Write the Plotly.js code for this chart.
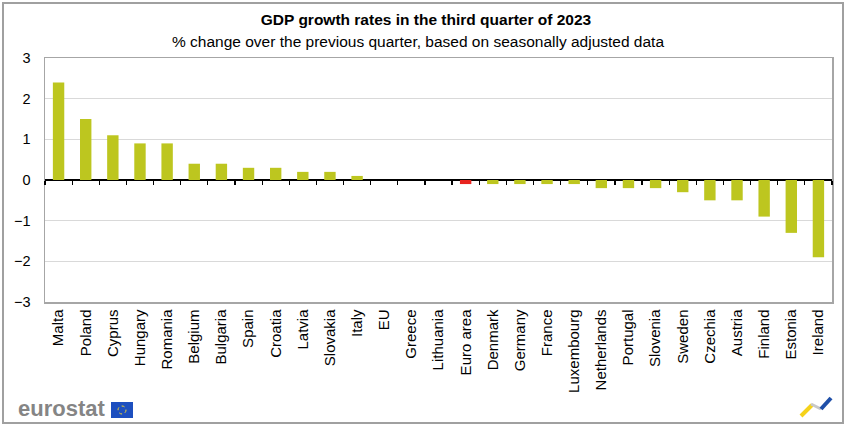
<!DOCTYPE html>
<html>
<head>
<meta charset="utf-8">
<script src="https://cdn.plot.ly/plotly-3.0.1.min.js"></script>
<style>
html,body{margin:0;padding:0;background:#fff;}
#chart{width:850px;height:429px;}
</style>
</head>
<body>
<div id="chart"></div>
<script>
// ---- data ----
const countries = ["Malta","Poland","Cyprus","Hungary","Romania","Belgium","Bulgaria","Spain","Croatia","Latvia","Slovakia","Italy","EU","Greece","Lithuania","Euro area","Denmark","Germany","France","Luxembourg","Netherlands","Portugal","Slovenia","Sweden","Czechia","Austria","Finland","Estonia","Ireland"];
const growth = [2.4,1.5,1.1,0.9,0.9,0.4,0.4,0.3,0.3,0.2,0.2,0.1,0.0,0.0,0.0,-0.1,-0.1,-0.1,-0.1,-0.1,-0.2,-0.2,-0.2,-0.3,-0.5,-0.5,-0.9,-1.3,-1.9];
const highlighted = ["Euro area"];
const yTicks = [-3,-2,-1,0,1,2,3];
const titleText = "GDP growth rates in the third quarter of 2023";
const subtitleText = "% change over the previous quarter, based on seasonally adjusted data";

const barColor = "#BDC61F";
const hiColor = "#E8231F";
const colors = countries.map(c => highlighted.includes(c) ? hiColor : barColor);

// plot area in pixels: x 45..832, y 58..302
const PL = 45, PR = 832, PT = 58, PB = 302;
const px = x => (x - PL) / (PR - PL);
const py = y => (PB - y) / (PB - PT);

const traces = [
  {
    type: "bar", x: countries, y: growth, xaxis: "x", yaxis: "y",
    marker: {color: colors, line: {width: 0}},
    hoverinfo: "x+y", showlegend: false
  },
  {
    type: "bar", x: countries, y: countries.map(() => 0), xaxis: "x2", yaxis: "y",
    marker: {color: "rgba(0,0,0,0)"}, hoverinfo: "skip", showlegend: false
  }
];

const frame = "#A6A6A6";
const layout = {
  width: 850, height: 429,
  margin: {l: PL, r: 850 - PR, t: PT, b: 429 - PB, pad: 0},
  paper_bgcolor: "#fff", plot_bgcolor: "#fff",
  font: {family: "Liberation Sans, Arial, sans-serif", size: 14, color: "#000"},
  bargap: 0.58,
  title: {
    text: "<b>" + titleText + "</b>",
    x: 426 / 850, xref: "container", xanchor: "center",
    y: 1 - 20 / 429, yref: "container", yanchor: "middle",
    font: {size: 15.5, color: "#000", family: "Liberation Sans, Arial, sans-serif"}
  },
  xaxis: {
    type: "category", anchor: "y", side: "bottom",
    showline: true, mirror: true, linecolor: frame, linewidth: 1.5,
    ticks: "", tickangle: -90, showgrid: false, zeroline: false,
    tickfont: {size: 15, color: "#000"}, ticklabelstandoff: 0,
    fixedrange: true
  },
  xaxis2: {
    type: "category", overlaying: "x", anchor: "free", position: 0.5, side: "bottom",
    showline: false, ticks: "outside", tickson: "boundaries", ticklen: 4, tickwidth: 1.2,
    tickcolor: "#000", showticklabels: false, showgrid: false, zeroline: false,
    fixedrange: true
  },
  yaxis: {
    range: [-3, 3], tickvals: yTicks, ticks: "",
    showline: true, mirror: true, linecolor: frame, linewidth: 1.5,
    showgrid: true, gridcolor: "#D9D9D9", gridwidth: 1.2,
    zeroline: true, zerolinecolor: "#000", zerolinewidth: 1.6,
    tickfont: {size: 14.5, color: "#000"}, ticklabelstandoff: 10,
    fixedrange: true
  },
  annotations: [
    {
      text: subtitleText, xref: "paper", yref: "paper",
      x: px(418), y: py(42), xanchor: "center", yanchor: "middle", showarrow: false,
      font: {size: 15.5, color: "#000"}
    },
    {
      text: "<b>eurostat</b>", xref: "paper", yref: "paper",
      x: px(16), y: py(409), xanchor: "left", yanchor: "middle", showarrow: false,
      font: {size: 22, color: "#858585", family: "Liberation Sans, Arial, sans-serif"}
    }
  ],
  shapes: [
    // outer border
    {type: "rect", xref: "paper", yref: "paper", x0: px(3), x1: px(843), y0: py(423), y1: py(3),
     line: {color: "#A0A0A0", width: 2}, fillcolor: "rgba(0,0,0,0)", layer: "below"},
    // EU flag
    {type: "rect", xref: "paper", yref: "paper", x0: px(111), x1: px(133), y0: py(418), y1: py(402),
     line: {width: 0}, fillcolor: "#1D4FBF"},
    {type: "circle", xref: "paper", yref: "paper", x0: px(118), x1: px(126), y0: py(414), y1: py(406),
     line: {color: "#F2D630", width: 1, dash: "dot"}, fillcolor: "rgba(0,0,0,0)"},
    // right logo
    {type: "line", xref: "paper", yref: "paper", x0: px(801), x1: px(812), y0: py(416), y1: py(405),
     line: {color: "#F5D21A", width: 4}},
    {type: "line", xref: "paper", yref: "paper", x0: px(811), x1: px(821), y0: py(404), y1: py(409),
     line: {color: "#C8C8C8", width: 3}},
    {type: "line", xref: "paper", yref: "paper", x0: px(821), x1: px(831), y0: py(409), y1: py(398),
     line: {color: "#1F4FA8", width: 4}}
  ]
};

Plotly.newPlot("chart", traces, layout, {displayModeBar: false, staticPlot: true});
</script>
</body>
</html>
